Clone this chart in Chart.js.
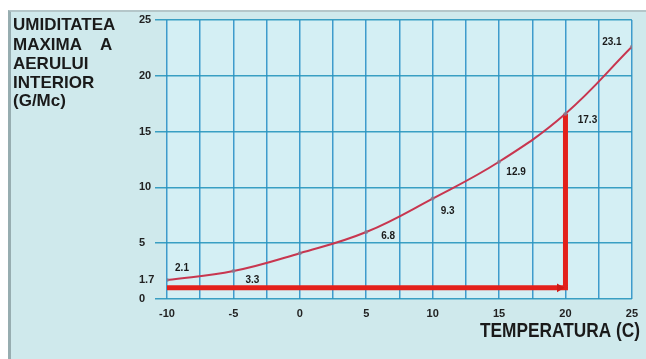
<!DOCTYPE html>
<html>
<head>
<meta charset="utf-8">
<script src="https://cdn.jsdelivr.net/npm/chart.js@4/dist/chart.umd.min.js"></script>
<style>
  html, body { margin: 0; padding: 0; background: #ffffff; }
  #wrap { position: relative; width: 646px; height: 359px; }
  #panel { position: absolute; left: 8px; top: 10px; right: 0; bottom: 0;
           background: #cfe9ec; border-left: 3px solid #97adb0; border-top: 2px solid #b4c6c9; }
  canvas { position: absolute; left: 0; top: 0; }
</style>
</head>
<body>
<div id="wrap">
  <div id="panel"></div>
  <canvas id="chart" width="646" height="359"></canvas>
</div>
<script>
// temperature (C) and max humidity (g/m3)
var temps = [-10, -5, 0, 5, 10, 15, 20, 25];
var humidity = [1.7, 2.5, 4.1, 6.0, 9.0, 12.3, 16.6, 22.6];
var pointLabels = ['2.1', '3.3', '', '6.8', '9.3', '12.9', '17.3', '23.1'];

// red guide arrow: from -10 across to 20, then up to the curve
var arrowX = [-10, 20, 20];
var arrowY = [1.0, 1.0, 16.6];

var yTicks = [0, 1.7, 5, 10, 15, 20, 25];

// label offsets from each point (px)
var labelOffsets = [[15, -12], [19, 9], [0, 0], [22, 4], [15, 13], [17, 11], [22, 7], [-20, -5]];

var curvePoints = temps.map(function (t, i) { return { x: t, y: humidity[i] }; });
var arrowPoints = arrowX.map(function (x, i) { return { x: x, y: arrowY[i] }; });

function fitText(ctx, txt, x, y, w) {
    var m = ctx.measureText(txt).width;
    ctx.save();
    ctx.translate(x, y);
    ctx.scale(w / m, 1);
    ctx.fillText(txt, 0, 0);
    ctx.restore();
}

var decorations = {
    id: 'decorations',
    beforeDraw: function (chart) {
        var a = chart.chartArea;
        var ctx = chart.ctx;
        ctx.save();
        ctx.fillStyle = '#d4eff4';
        ctx.fillRect(a.left, a.top, a.right - a.left, a.bottom - a.top);
        ctx.restore();
    },
    afterDatasetsDraw: function (chart) {
        var ctx = chart.ctx;
        var xs = chart.scales.x, ys = chart.scales.y;
        ctx.save();
        ctx.fillStyle = '#1a1a1a';
        ctx.font = 'bold 10px "Liberation Sans", Arial, sans-serif';
        ctx.textAlign = 'center';
        ctx.textBaseline = 'middle';
        $each(temps, function (i, t) {
            if (!pointLabels[i]) return;
            var px = xs.getPixelForValue(t) + labelOffsets[i][0];
            var py = ys.getPixelForValue(humidity[i]) + labelOffsets[i][1];
            ctx.fillText(pointLabels[i], px, py);
        });

        // axis titles
        ctx.textAlign = 'left';
        ctx.textBaseline = 'alphabetic';
        ctx.font = 'bold 17px "Liberation Sans", Arial, sans-serif';
        ctx.fillText('UMIDITATEA', 13, 30);
        ctx.fillText('MAXIMA', 13, 50);
        ctx.fillText('A', 100, 50);
        ctx.fillText('AERULUI', 13, 69);
        ctx.fillText('INTERIOR', 13, 88);
        ctx.fillText('(G/Mc)', 13, 106);

        ctx.font = 'bold 20px "Liberation Sans", Arial, sans-serif';
        fitText(ctx, 'TEMPERATURA (C)', 480, 337, 160);
        ctx.restore();
    }
};

function $each(arr, fn) { arr.forEach(function (v, i) { fn(i, v); }); }

var ctx = document.getElementById('chart').getContext('2d');
var chart = new Chart(ctx, {
    type: 'line',
    data: {
        datasets: [{
            data: curvePoints,
            borderColor: '#c8364f',
            borderWidth: 2,
            tension: 0.4,
            pointRadius: 2,
            pointBackgroundColor: 'rgba(130,130,150,0.8)',
            pointBorderWidth: 0,
            order: 1
        }, {
            data: arrowPoints,
            borderColor: '#e3201b',
            borderWidth: 5,
            tension: 0,
            pointRadius: 0,
            borderJoinStyle: 'miter',
            order: 2
        }, {
            data: [{ x: arrowX[1] - 0.45, y: arrowY[1] }],
            showLine: false,
            pointStyle: 'triangle',
            rotation: 90,
            pointRadius: 5,
            pointBackgroundColor: '#d01a16',
            pointBorderWidth: 0,
            order: 0
        }]
    },
    options: {
        responsive: false,
        animation: false,
        layout: { padding: { left: 139, top: 20, right: 14, bottom: 0 } },
        plugins: {
            legend: { display: false },
            tooltip: { enabled: false }
        },
        scales: {
            x: {
                type: 'linear',
                min: -10,
                max: 25,
                border: { display: false },
                grid: {
                    color: 'rgba(45,145,200,0.9)',
                    lineWidth: 1.5,
                    drawTicks: false
                },
                ticks: {
                    stepSize: 2.5,
                    padding: 8,
                    maxRotation: 0,
                    color: '#222',
                    font: { family: '"Liberation Sans", Arial, sans-serif', size: 11, weight: 'bold' },
                    callback: function (v) { return v % 5 === 0 ? String(v) : ''; }
                },
                afterFit: function (scale) { scale.height = 60; }
            },
            y: {
                min: 0,
                max: 25,
                border: { display: false },
                afterBuildTicks: function (scale) {
                    scale.ticks = yTicks.map(function (v) { return { value: v }; });
                },
                grid: {
                    color: function (c) { return c.tick && c.tick.value === 1.7 ? 'rgba(0,0,0,0)' : 'rgba(40,150,190,0.9)'; },
                    lineWidth: 1.5,
                    tickLength: 12
                },
                ticks: {
                    crossAlign: 'far',
                    padding: 2,
                    color: '#222',
                    font: { family: '"Liberation Sans", Arial, sans-serif', size: 11, weight: 'bold' },
                    callback: function (v) { return String(v); }
                },
                afterFit: function (scale) { scale.width = 28; }
            }
        }
    },
    plugins: [decorations]
});
</script>
</body>
</html>
